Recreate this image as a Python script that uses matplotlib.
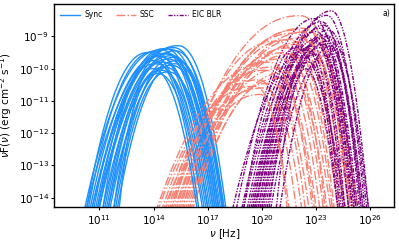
import numpy as np
import matplotlib
matplotlib.use('Agg')
import matplotlib.pyplot as plt

# log10 peak frequency, log10 peak flux, log10 nu where each curve leaves the
# plot at the bottom (left foot / right foot)
sync_peak_nu = [15.35, 15.1, 14.9, 14.4, 14.0, 13.7, 15.2, 14.7, 15.0, 14.3, 14.8, 15.3, 14.5,
                14.1, 15.0, 14.6, 14.4, 14.8, 14.2, 15.1, 14.0, 14.6, 13.9, 15.2, 14.7]
sync_peak_f = [-9.29, -9.35, -9.40, -9.42, -9.48, -9.50, -9.45, -9.55, -9.60, -9.62, -9.70, -9.75, -9.80,
               -9.85, -9.90, -9.95, -10.05, -10.10, -10.15, -9.65, -9.75, -9.38, -10.00, -9.85, -9.52]
sync_foot_l = [10.9, 10.6, 10.3, 10.2, 10.4, 10.3, 11.2, 10.8, 11.0, 10.5, 11.3, 11.5, 11.0,
               10.7, 11.6, 11.4, 11.5, 11.9, 11.8, 11.8, 11.2, 10.9, 12.1, 12.0, 10.6]
sync_foot_r = [18.0, 17.8, 17.6, 17.3, 17.0, 16.8, 17.9, 17.5, 17.7, 17.1, 17.4, 17.85, 17.2,
               16.9, 17.6, 17.3, 17.0, 17.4, 16.7, 17.8, 16.5, 17.5, 16.4, 17.9, 17.6]

ssc_peak_nu = [22.1, 22.3, 22.0, 22.6, 21.8, 22.2, 21.5, 20.8, 22.0, 21.3, 21.6, 20.6, 21.0,
               21.4, 20.2, 19.8, 20.5, 19.6, 20.1, 20.9, 21.7, 22.4, 20.4, 21.1, 19.9]
ssc_peak_f = [-8.36, -8.75, -8.80, -8.85, -8.90, -9.05, -9.10, -9.15, -9.25, -9.50, -9.55, -9.95, -10.00,
              -10.10, -10.05, -10.35, -10.45, -10.55, -10.60, -10.30, -9.35, -9.15, -9.80, -9.70, -10.80]
ssc_foot_l = [15.0, 15.2, 15.4, 15.6, 15.3, 15.7, 15.5, 15.1, 15.9, 15.6, 16.0, 14.9, 15.8,
              16.1, 14.7, 14.5, 15.2, 14.3, 14.6, 16.2, 15.0, 16.0, 14.2, 14.8, 15.4]
ssc_foot_r = [25.3, 25.0, 24.8, 25.1, 24.5, 24.6, 24.2, 23.8, 24.3, 23.5, 23.9, 22.8, 23.2,
              23.6, 22.4, 21.9, 22.6, 21.5, 22.2, 23.0, 24.0, 24.9, 22.9, 23.4, 21.4]

eic_peak_nu = [23.85, 23.6, 22.9, 23.4, 23.2, 23.7, 23.0, 23.5, 23.3, 22.9, 23.6, 23.1, 23.4,
               22.8, 23.2, 23.7, 22.7, 23.0, 22.5, 23.5, 22.6, 21.9, 23.3, 22.4, 23.8]
eic_peak_f = [-8.21, -8.35, -8.45, -8.65, -8.75, -8.80, -8.85, -8.95, -9.05, -9.10, -9.15, -9.20, -9.25,
              -9.30, -9.35, -9.00, -9.45, -9.55, -9.40, -9.60, -9.80, -9.35, -8.55, -10.00, -9.30]
eic_foot_l = [19.6, 19.4, 18.6, 19.8, 19.5, 20.0, 19.2, 20.1, 19.9, 19.7, 20.3, 19.3, 20.2,
              19.0, 20.0, 19.6, 20.4, 19.8, 18.4, 20.5, 19.5, 19.0, 18.9, 20.8, 21.0]
eic_foot_r = [25.9, 25.7, 25.2, 25.5, 25.3, 25.8, 25.0, 25.6, 25.2, 24.8, 25.5, 24.9, 25.1,
              24.5, 24.8, 25.9, 24.3, 24.6, 24.2, 25.0, 24.4, 24.6, 25.6, 24.2, 25.4]

Y_BOTTOM = -14.3
lognu = np.linspace(8.0, 28.0, 3000)


def sed_bump(xp, yp, xl, xr, p=2.0):
    bl = (yp - Y_BOTTOM) / abs(xp - xl) ** p
    br = (yp - Y_BOTTOM) / abs(xr - xp) ** p
    d = np.abs(lognu - xp) ** p
    y = np.where(lognu < xp, yp - bl * d, yp - br * d)
    return 10 ** lognu, 10 ** y


fig = plt.figure(figsize=(3.99, 2.40), dpi=100)
ax = fig.add_axes([0.136, 0.136, 0.852, 0.847])

for i in range(len(sync_peak_nu)):
    x, y = sed_bump(sync_peak_nu[i], sync_peak_f[i], sync_foot_l[i], sync_foot_r[i], 2.2)
    ax.plot(x, y, color='#1E90FF', lw=1.0, ls='-', label='Sync' if i == 0 else None)
    x, y = sed_bump(ssc_peak_nu[i], ssc_peak_f[i], ssc_foot_l[i], ssc_foot_r[i], 2.2)
    ax.plot(x, y, color='salmon', lw=1.0, ls='-.', label='SSC' if i == 0 else None)
    x, y = sed_bump(eic_peak_nu[i], eic_peak_f[i], eic_foot_l[i], eic_foot_r[i])
    ax.plot(x, y, color='purple', lw=1.0, ls=(0, (3, 1, 1, 1, 1, 1)),
            label='EIC BLR' if i == 0 else None)

ax.set_xscale('log')
ax.set_yscale('log')
ax.set_xlim(10 ** 8.5, 10 ** 27.33)
ax.set_ylim(10 ** Y_BOTTOM, 1e-8)
ax.set_xticks([1e11, 1e14, 1e17, 1e20, 1e23, 1e26])
ax.set_yticks([1e-14, 1e-13, 1e-12, 1e-11, 1e-10, 1e-9])
ax.minorticks_off()
ax.tick_params(labelsize=7.5, length=2.5, width=0.8, pad=1.5)
for s in ax.spines.values():
    s.set_linewidth(1.0)

ax.set_xlabel(r'$\nu$ [Hz]', fontsize=7.5, labelpad=0)
ax.set_ylabel(r'$\nu$F($\nu$) (erg cm$^{-2}$ s$^{-1}$)', fontsize=7.5, labelpad=3)
ax.text(0.988, 0.975, 'a)', transform=ax.transAxes, ha='right', va='top', fontsize=5.5)

ax.legend(loc='upper left', ncol=3, frameon=False, fontsize=5.5, handlelength=2.6,
          handletextpad=0.5, columnspacing=1.8, borderaxespad=0.4)

fig.savefig('out.png', dpi=100)
